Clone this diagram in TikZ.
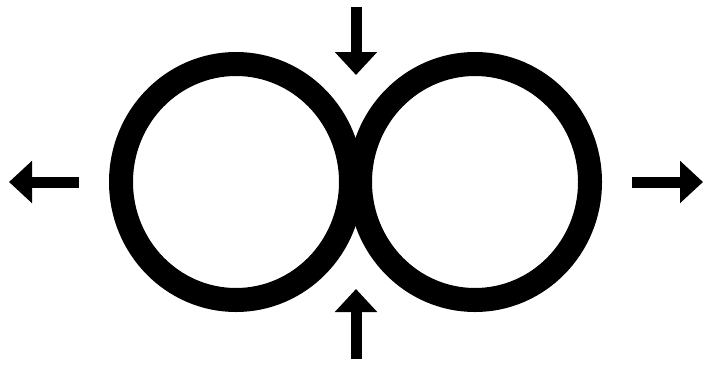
\documentclass[tikz,border=0pt]{standalone}
\usetikzlibrary{arrows.meta}
\begin{document}
\begin{tikzpicture}[x=1pt,y=-1pt,
  ring/.style={draw=black,line width=24pt},
  pusharrow/.style={draw=black,line width=11pt,-{Triangle[length=23pt,width=41pt]}}]
\useasboundingbox[fill=white] (0,0) rectangle (714,365);
\draw[ring] (236,182) ellipse [x radius=115pt, y radius=118pt];
\draw[ring] (475,182) ellipse [x radius=115pt, y radius=118pt];
\coordinate (lS) at (79,182);
\coordinate (lT) at (9,182);
\coordinate (rS) at (632,182);
\coordinate (rT) at (703,182);
\coordinate (tS) at (356,7);
\coordinate (tT) at (356,75);
\coordinate (bS) at (356,359);
\coordinate (bT) at (356,289);
\draw[pusharrow] (lS) -- (lT);
\draw[pusharrow] (rS) -- (rT);
\draw[pusharrow] (tS) -- (tT);
\draw[pusharrow] (bS) -- (bT);
\end{tikzpicture}
\end{document}
